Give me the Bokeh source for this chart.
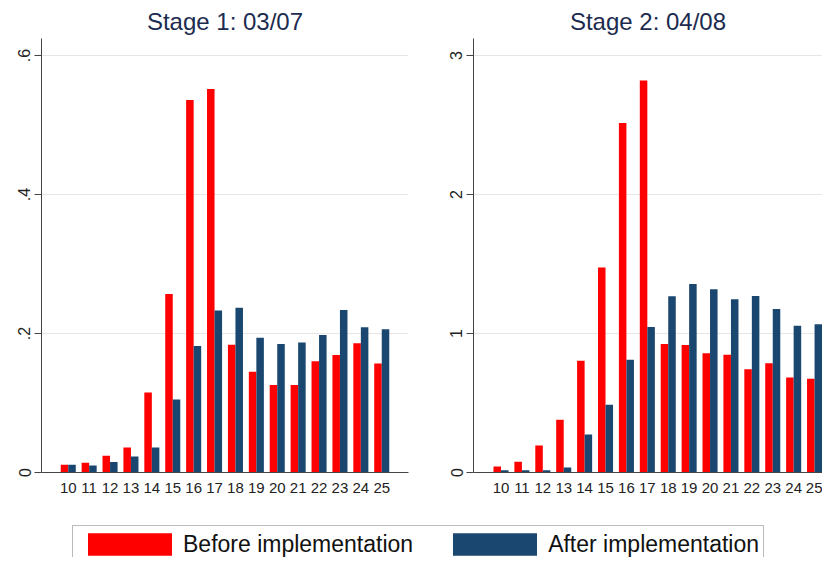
from bokeh.plotting import figure
from bokeh.layouts import column, row
from bokeh.models import ColumnDataSource, FixedTicker, Legend, LegendItem
from bokeh.transform import dodge
from bokeh.embed import file_html
from bokeh.resources import INLINE

# ---- data ----
ages = list(range(10, 26))
x_tick_labels = [str(a) for a in ages]

stage1_before = [0.011, 0.014, 0.024, 0.036, 0.115, 0.257, 0.536, 0.552, 0.184, 0.145,
                 0.126, 0.126, 0.160, 0.169, 0.186, 0.157]
stage1_after = [0.011, 0.010, 0.015, 0.023, 0.036, 0.105, 0.182, 0.233, 0.237, 0.194,
                0.185, 0.187, 0.198, 0.234, 0.209, 0.206]

stage2_before = [0.043, 0.077, 0.194, 0.379, 0.804, 1.474, 2.515, 2.820, 0.924, 0.917,
                 0.857, 0.847, 0.742, 0.785, 0.684, 0.674]
stage2_after = [0.017, 0.017, 0.017, 0.036, 0.274, 0.487, 0.811, 1.046, 1.267, 1.356,
                1.318, 1.246, 1.270, 1.176, 1.056, 1.066]

y1_ticks = [0, 0.2, 0.4, 0.6]
y1_labels = ["0", ".2", ".4", ".6"]
y2_ticks = [0, 1, 2, 3]
y2_labels = ["0", "1", "2", "3"]

titles = ["Stage 1: 03/07", "Stage 2: 04/08"]
series_names = ["Before implementation", "After implementation"]

RED = "#ff0000"
BLUE = "#1a476f"
TITLE_COLOR = "#1c2b4f"
FONT = "Liberation Sans"
BAR_W = 0.36


def make_panel(title, before, after, yticks, ylabels, ymax, xstart, xend,
               width, border_left, border_right):
    p = figure(width=width, height=505, x_range=(xstart, xend), y_range=(0, ymax),
               output_backend="svg", toolbar_location=None,
               min_border_left=border_left, min_border_right=border_right,
               min_border_top=38, min_border_bottom=33)
    src = ColumnDataSource(dict(x=ages, before=before, after=after))
    p.vbar(x=dodge("x", -BAR_W / 2), top="before", width=BAR_W, source=src,
           fill_color=RED, line_color=None)
    p.vbar(x=dodge("x", BAR_W / 2), top="after", width=BAR_W, source=src,
           fill_color=BLUE, line_color=None)

    p.title.text = title
    p.title.align = "center"
    p.title.text_font = FONT
    p.title.text_font_size = "24px"
    p.title.text_font_style = "normal"
    p.title.text_color = TITLE_COLOR
    p.title.standoff = 7

    p.outline_line_color = None
    p.xgrid.visible = False
    p.ygrid.ticker = FixedTicker(ticks=yticks)
    p.ygrid.grid_line_color = "#e6e6e6"

    p.yaxis.ticker = FixedTicker(ticks=yticks)
    p.yaxis.major_label_overrides = dict(zip(yticks, ylabels))
    p.yaxis.major_label_orientation = "vertical"
    p.yaxis.minor_tick_line_color = None
    p.yaxis.major_tick_out = 7
    p.yaxis.major_tick_in = 0
    p.yaxis.major_label_standoff = 4
    p.yaxis.major_label_text_font = FONT
    p.yaxis.major_label_text_font_size = "16px"
    p.yaxis.major_label_text_color = "#222222"
    p.yaxis.axis_line_color = "#444444"
    p.yaxis.major_tick_line_color = "#444444"

    p.xaxis.ticker = FixedTicker(ticks=ages)
    p.xaxis.major_label_overrides = dict(zip(ages, x_tick_labels))
    p.xaxis.major_tick_line_color = None
    p.xaxis.minor_tick_line_color = None
    p.xaxis.major_label_standoff = 4
    p.xaxis.major_label_text_font = FONT
    p.xaxis.major_label_text_font_size = "15px"
    p.xaxis.major_label_text_color = "#222222"
    p.xaxis.axis_line_color = "#444444"
    return p


p1 = make_panel(titles[0], stage1_before, stage1_after, y1_ticks, y1_labels, 0.6245,
                8.72, 26.28, 428, 41, 20)
p2 = make_panel(titles[1], stage2_before, stage2_after, y2_ticks, y2_labels, 3.122,
                8.684, 25.38, 394, 45, 0)

# legend panel (its bars lie outside its visible ranges; only the key is shown)
lg = figure(width=822, height=52, output_backend="svg", toolbar_location=None,
            x_range=(0, 1), y_range=(0, 1),
            min_border=0, x_axis_location=None, y_axis_location=None)
lg.outline_line_color = None
lg.grid.visible = False
key_src = ColumnDataSource(dict(x=ages, before=stage1_before, after=stage1_after))
r1 = lg.vbar(x="x", top="before", width=BAR_W, source=key_src, fill_color=RED, line_color=None)
r2 = lg.vbar(x="x", top="after", width=BAR_W, source=key_src, fill_color=BLUE, line_color=None)
legend = Legend(items=[LegendItem(label=series_names[0], renderers=[r1]),
                       LegendItem(label=series_names[1], renderers=[r2])],
                orientation="horizontal", location=(72, -6),
                glyph_width=105, glyph_height=28, label_standoff=1, spacing=29,
                padding=4, margin=0,
                label_text_font=FONT, label_text_font_size="23px",
                label_text_color="#111111",
                border_line_color="#777777", border_line_width=1,
                background_fill_color="white")
lg.add_layout(legend, "center")

layout = column(row(p1, p2), lg)

open("out.html", "w").write(file_html(layout, INLINE))
